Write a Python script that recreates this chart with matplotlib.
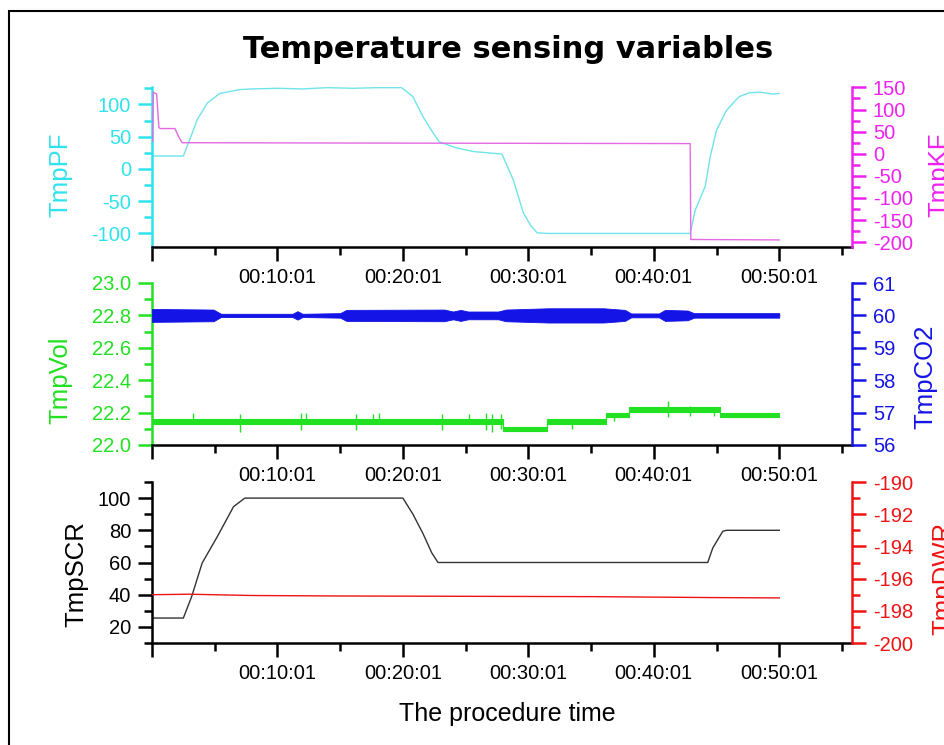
import numpy as np
import matplotlib
matplotlib.use("Agg")
import matplotlib.pyplot as plt
from matplotlib.patches import Rectangle
from matplotlib.ticker import FixedLocator, MultipleLocator, FormatStrFormatter

plt.rcParams['font.family'] = ['Liberation Sans', 'DejaVu Sans']
plt.rcParams['axes.unicode_minus'] = False

# time axis is in minutes from the start (00:00:01)
tick_minutes = [0, 10, 20, 30, 40, 50]
tick_labels = ['', '00:10:01', '00:20:01', '00:30:01', '00:40:01', '00:50:01']

# panel 1: TmpPF (left) and TmpKF (right)
pf_t = [0, 2.5, 3.0, 3.6, 4.4, 5.4, 7.0, 8, 10, 12, 14, 16, 18, 19.9,
        20.8, 21.6, 22.4, 22.9, 24.2, 25.6, 27.9, 28.8, 29.6, 30.2, 30.7,
        31.5, 42.9, 43.3, 44.1, 44.5, 45.0, 45.8, 46.8, 47.6, 48.5, 49.5, 50]
pf_v = [20, 20, 45, 76, 102, 117, 123, 124, 125, 124, 126, 125, 126, 126,
        112, 81, 56, 42, 33, 27, 23, -17, -68, -88, -99,
        -100, -100, -64, -27, 19, 60, 91, 112, 118, 119, 116, 117]
kf_t = [0, 0.05, 0.1, 0.37, 0.55, 0.64, 1.83, 2.1, 2.4, 20, 42.9, 42.95, 50]
kf_v = [28, 28, 139, 135, 60, 57, 57, 40, 25, 24, 23, -194, -195]

# panel 2: TmpVol (left, step band) and TmpCO2 (right, noise envelope)
vol_t = [0, 28, 31.5, 36.2, 38, 45.3, 50]
vol_lo = [22.128, 22.088, 22.128, 22.175, 22.205, 22.172, 22.172]
vol_hi = [22.158, 22.112, 22.158, 22.198, 22.232, 22.198, 22.198]
vol_spike_t = [3.3, 7.0, 11.9, 12.3, 16.3, 17.6, 18.1, 23.1, 25.3, 26.6,
               27.1, 27.8, 33.5, 36.8, 41.1, 42.9, 44.8]
vol_spike_lo = [22.13, 22.08, 22.09, 22.13, 22.09, 22.13, 22.13, 22.09, 22.13,
                22.09, 22.08, 22.10, 22.10, 22.15, 22.17, 22.18, 22.18]
vol_spike_hi = [22.20, 22.19, 22.20, 22.20, 22.19, 22.19, 22.20, 22.19, 22.19,
                22.20, 22.19, 22.19, 22.14, 22.20, 22.27, 22.24, 22.23]
co2_t = [0, 4.9, 5.5, 11.2, 11.6, 12.0, 15, 15.5, 23.3, 24.0, 24.6, 25.2,
         27.6, 28.2, 31.6, 36, 37.7, 38.2, 40.4, 40.9, 42.7, 43.2, 50]
co2_c = [60.0] * len(co2_t)
co2_amp = [0.2, 0.18, 0.05, 0.05, 0.13, 0.05, 0.07, 0.17, 0.18, 0.12, 0.17,
           0.12, 0.12, 0.18, 0.22, 0.22, 0.17, 0.06, 0.06, 0.17, 0.15, 0.07, 0.07]

# panel 3: TmpSCR (left) and TmpDWR (right)
scr_t = [0, 2.5, 3.16, 4.0, 5.2, 6.5, 7.4, 20.0, 20.8, 21.6, 22.3, 22.8,
         44.3, 44.7, 45.5, 45.8, 50]
scr_v = [25.5, 25.5, 38.8, 59.7, 76, 94.7, 100, 100, 90, 78, 66, 60,
         60, 69, 79.4, 80, 80]
dwr_t = [0, 3, 8, 15, 25, 35, 45, 50]
dwr_v = [-197.0, -196.97, -197.05, -197.08, -197.1, -197.12, -197.18, -197.2]

cyan, cyan_line = '#30E2EC', '#6FE4EA'
magenta, magenta_line = '#EE22EE', '#E46AE4'
green = '#22E022'
blue = '#1414E6'
red = '#EE1414'
tick_fs = 14.5
label_fs = 18.5

fig = plt.figure(figsize=(9.44, 7.45), dpi=100)
W, H = 944.0, 745.0


def make_panel(top, bottom, lcol, rcol):
    ax = fig.add_axes([152 / W, 1 - bottom / H, 700 / W, (bottom - top) / H])
    axr = ax.twinx()
    for a in (ax, axr):
        a.patch.set_visible(False)
        a.spines['top'].set_visible(False)
    ax.spines['right'].set_visible(False)
    axr.spines['left'].set_visible(False)
    axr.spines['bottom'].set_visible(False)
    ax.spines['left'].set_color(lcol)
    axr.spines['right'].set_color(rcol)
    ax.spines['bottom'].set_color('black')
    for s in ('left', 'bottom'):
        ax.spines[s].set_linewidth(1.8)
    axr.spines['right'].set_linewidth(1.8)

    ax.set_xlim(0, 55.8)
    ax.xaxis.set_major_locator(FixedLocator(tick_minutes))
    ax.set_xticklabels(tick_labels)
    ax.xaxis.set_minor_locator(FixedLocator([5, 15, 25, 35, 45, 55]))
    ax.tick_params(axis='x', which='major', direction='out', length=10, width=1.8,
                   color='black', labelsize=tick_fs, pad=5)
    ax.tick_params(axis='x', which='minor', direction='out', length=5.5, width=1.8,
                   color='black')
    ax.tick_params(axis='y', which='major', direction='out', length=10, width=1.8,
                   color=lcol, labelcolor=lcol, labelsize=tick_fs, pad=5)
    ax.tick_params(axis='y', which='minor', direction='out', length=5.5, width=1.8,
                   color=lcol)
    axr.tick_params(axis='y', which='major', direction='out', length=10, width=1.8,
                    color=rcol, labelcolor=rcol, labelsize=tick_fs, pad=5)
    axr.tick_params(axis='y', which='minor', direction='out', length=5.5, width=1.8,
                    color=rcol)
    return ax, axr


# panel 1
ax1, ax1r = make_panel(87, 247, cyan, magenta)
ax1.plot(pf_t, pf_v, color=cyan_line, lw=1.0)
ax1r.plot(kf_t, kf_v, color=magenta_line, lw=1.0)
ax1.set_ylim(-121, 127)
ax1.yaxis.set_major_locator(MultipleLocator(50))
ax1.yaxis.set_minor_locator(MultipleLocator(25))
ax1r.set_ylim(-211, 151)
ax1r.yaxis.set_major_locator(MultipleLocator(50))
ax1r.yaxis.set_minor_locator(MultipleLocator(25))
ax1.set_ylabel('TmpPF', color=cyan, fontsize=label_fs)
ax1.yaxis.set_label_coords(-0.114, 0.45)
ax1r.set_ylabel('TmpKF', color=magenta, fontsize=label_fs)
ax1r.yaxis.set_label_coords(1.108, 0.45)

# panel 2
ax2, ax2r = make_panel(283, 445, green, blue)
ax2.fill_between(vol_t, vol_lo, vol_hi, step='post', color=green, lw=0.8)
ax2.vlines(vol_spike_t, vol_spike_lo, vol_spike_hi, color=green, lw=1.0)
co2_c = np.array(co2_c)
co2_amp = np.array(co2_amp)
ax2r.fill_between(co2_t, co2_c - co2_amp, co2_c + co2_amp, color=blue, lw=0.6)
ax2r.plot(co2_t, co2_c, color=blue, lw=1.0)
ax2.set_ylim(22.0, 23.0)
ax2.yaxis.set_major_locator(MultipleLocator(0.2))
ax2.yaxis.set_minor_locator(MultipleLocator(0.1))
ax2.yaxis.set_major_formatter(FormatStrFormatter('%.1f'))
ax2r.set_ylim(56, 61)
ax2r.yaxis.set_major_locator(MultipleLocator(1))
ax2r.yaxis.set_minor_locator(MultipleLocator(0.5))
ax2.set_ylabel('TmpVol', color=green, fontsize=label_fs)
ax2.yaxis.set_label_coords(-0.114, 0.40)
ax2r.set_ylabel('TmpCO2', color=blue, fontsize=label_fs)
ax2r.yaxis.set_label_coords(1.087, 0.42)

# panel 3
ax3, ax3r = make_panel(482, 643, 'black', red)
ax3.plot(scr_t, scr_v, color='#333333', lw=1.0)
ax3r.plot(dwr_t, dwr_v, color=red, lw=1.0)
ax3.set_ylim(10, 110)
ax3.yaxis.set_major_locator(FixedLocator([20, 40, 60, 80, 100]))
ax3.yaxis.set_minor_locator(FixedLocator([10, 30, 50, 70, 90, 110]))
ax3r.set_ylim(-200, -190)
ax3r.yaxis.set_major_locator(MultipleLocator(2))
ax3r.yaxis.set_minor_locator(MultipleLocator(1))
ax3.set_ylabel('TmpSCR', color='black', fontsize=label_fs)
ax3.yaxis.set_label_coords(-0.091, 0.43)
ax3r.set_ylabel('TmpDWR', color=red, fontsize=label_fs)
ax3r.yaxis.set_label_coords(1.114, 0.40)

fig.text(507 / W, 1 - 714 / H, 'The procedure time', ha='center', va='center',
         fontsize=18)
fig.text(508 / W, 1 - 50 / H, 'Temperature sensing variables', ha='center',
         va='center', fontsize=22, fontweight='bold', family='DejaVu Sans')

fig.add_artist(Rectangle((8.5 / W, -0.05), 1.2, 1.05 - 10.5 / H,
                         transform=fig.transFigure, fill=False, lw=1.5,
                         edgecolor='black'))

fig.savefig('out.png', dpi=100)
